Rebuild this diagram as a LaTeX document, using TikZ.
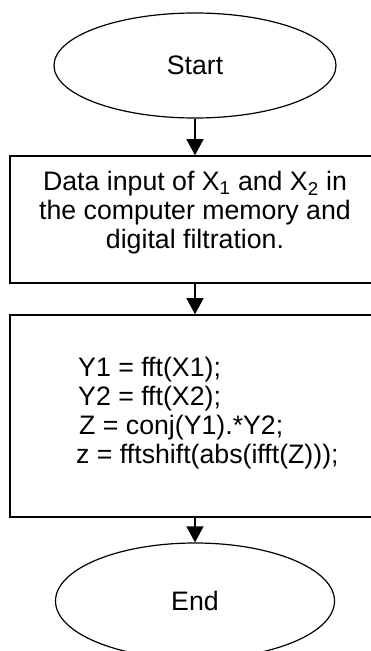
\documentclass[tikz,border=0pt]{standalone}
\usepackage{fontspec}
\setmainfont{Liberation Sans}
\usetikzlibrary{arrows.meta,positioning,shapes.geometric}

\begin{document}
\begin{tikzpicture}[x=1pt,y=1pt,
  termnode/.style={draw,ellipse,line width=1.2pt,minimum width=282pt,minimum height=105pt,inner sep=0pt,font=\fontsize{26.7}{29}\selectfont},
  procbox/.style={draw,rectangle,line width=1.6pt,minimum width=370pt,inner sep=0pt},
  boxtext/.style={inner sep=0pt,font=\fontsize{26.7}{29}\selectfont},
  flow/.style={-{Triangle[length=16pt,width=17pt]},line width=1.2pt}]
  \clip (0,0) rectangle (371,-651);
  % terminals and process boxes
  \node[termnode] (start) at (195,-65.5) {Start};
  \node[procbox,minimum height=127pt] (input) at (195,-219.5) {};
  \node[procbox,minimum height=202pt] (corr) at (195,-416) {};
  \node[termnode,minimum width=279pt,minimum height=116pt] (end) at (195,-601) {End};
  % box texts
  \node[boxtext,align=center,anchor=north] (inputtxt) at (195,-171)
    {Data input of X\textsubscript{1} and X\textsubscript{2} in\\the computer memory and\\digital filtration.};
  \node[boxtext,align=left,anchor=north west] (corrtxt) at (76,-357)
    {\hspace*{2pt}Y1 = fft(X1);\\\hspace*{2pt}Y2 = fft(X2);\\\hspace*{3pt}Z = conj(Y1).*Y2;\\z = fftshift(abs(ifft(Z)));};
  % flow arrows
  \draw[flow] (start) -- (input);
  \draw[flow] (input) -- (corr);
  \draw[flow] (corr) -- (end);
\end{tikzpicture}
\end{document}
